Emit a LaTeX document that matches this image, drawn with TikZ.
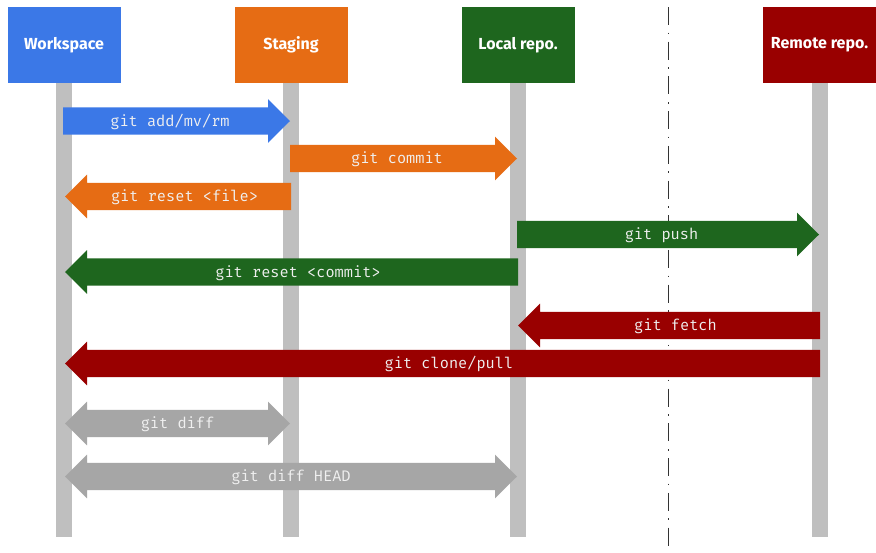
\documentclass[tikz,border=0pt]{standalone}
\usepackage{fontspec}
\setmainfont{Fira Sans}
\newfontfamily\lblfont{Fira Mono}
\definecolor{cblue}{HTML}{3B78E7}
\definecolor{corange}{HTML}{E66C14}
\definecolor{cgreen}{HTML}{1E661E}
\definecolor{cred}{HTML}{990000}
\definecolor{cgray}{HTML}{A6A6A6}
\definecolor{clane}{HTML}{BFBFBF}
\definecolor{csep}{HTML}{333333}
\tikzset{
  header/.style={fill=#1, minimum width=113pt, minimum height=76pt, inner sep=0pt,
    text=white, font=\bfseries\fontsize{16}{18}\selectfont},
  lane/.style={line width=16pt, draw=clane},
  lbl/.style={text=white!94!black, font=\lblfont\fontsize{15.3}{18}\selectfont, inner sep=0pt},
  sep/.style={draw=csep, line width=1.2pt, dash pattern=on 18pt off 7.6pt on 1.5pt off 7.6pt}
}
% one-way arrow: colour, tail x, tip x, y, label
\newcommand\flowarr[5]{%
  \pgfmathsetmacro\fdir{(#3>#2) ? 1 : -1}%
  \pgfmathsetmacro\fhb{#3-22*\fdir}%
  \pgfmathsetmacro\flx{(#2+#3)/2-6.5*\fdir}%
  \fill[#1] (#2,#4-13.6) -- (\fhb,#4-13.6) -- (\fhb,#4-21.8) -- (#3,#4)
    -- (\fhb,#4+21.8) -- (\fhb,#4+13.6) -- (#2,#4+13.6) -- cycle;
  \node[lbl] at (\flx,#4+0.8) {#5};}
% two-way arrow: colour, left x, right x, y, label
\newcommand\bothwayarr[5]{%
  \fill[#1] (#2,#4) -- (#2+22,#4-21.8) -- (#2+22,#4-13.6) -- (#3-22,#4-13.6)
    -- (#3-22,#4-21.8) -- (#3,#4) -- (#3-22,#4+21.8) -- (#3-22,#4+13.6)
    -- (#2+22,#4+13.6) -- (#2+22,#4+21.8) -- cycle;
  \node[lbl] at ({(#2+#3)/2},#4+0.8) {#5};}
\begin{document}
\begin{tikzpicture}[x=1pt,y=-1pt]
\useasboundingbox[fill=white] (0,0) rectangle (876,552);
% separator
\coordinate (septop) at (668.7,7);
\coordinate (sepbot) at (668.7,552);
\draw[sep] (septop) -- (sepbot);
% headers
\node[header=cblue]   (ws) at (64,45)    {Workspace};
\node[header=corange] (st) at (291,45)   {Staging};
\node[header=cgreen]  (lr) at (518,45)   {Local repo.};
\node[header=cred]    (rr) at (819.5,45) {Remote repo.};
% lanes
\coordinate (bottom) at (0,537);
\draw[lane] (ws.south) -- (ws.south |- bottom);
\draw[lane] (st.south) -- (st.south |- bottom);
\draw[lane] (lr.south) -- (lr.south |- bottom);
\draw[lane] ([xshift=0.5pt]rr.south) -- ([xshift=0.5pt]rr.south |- bottom);
% arrows
\flowarr{cblue}{63}{290}{121}{git add/mv/rm}
\flowarr{corange}{290}{517}{158.5}{git commit}
\flowarr{corange}{291}{65}{196.5}{git reset <file>}
\flowarr{cgreen}{517}{819}{234.5}{git push}
\flowarr{cgreen}{518}{65}{272}{git reset <commit>}
\flowarr{cred}{820}{518}{325.5}{git fetch}
\flowarr{cred}{820}{65}{363.5}{git clone/pull}
\bothwayarr{cgray}{65}{290}{423.5}{git diff}
\bothwayarr{cgray}{65}{517}{476.5}{git diff HEAD}
\end{tikzpicture}
\end{document}
